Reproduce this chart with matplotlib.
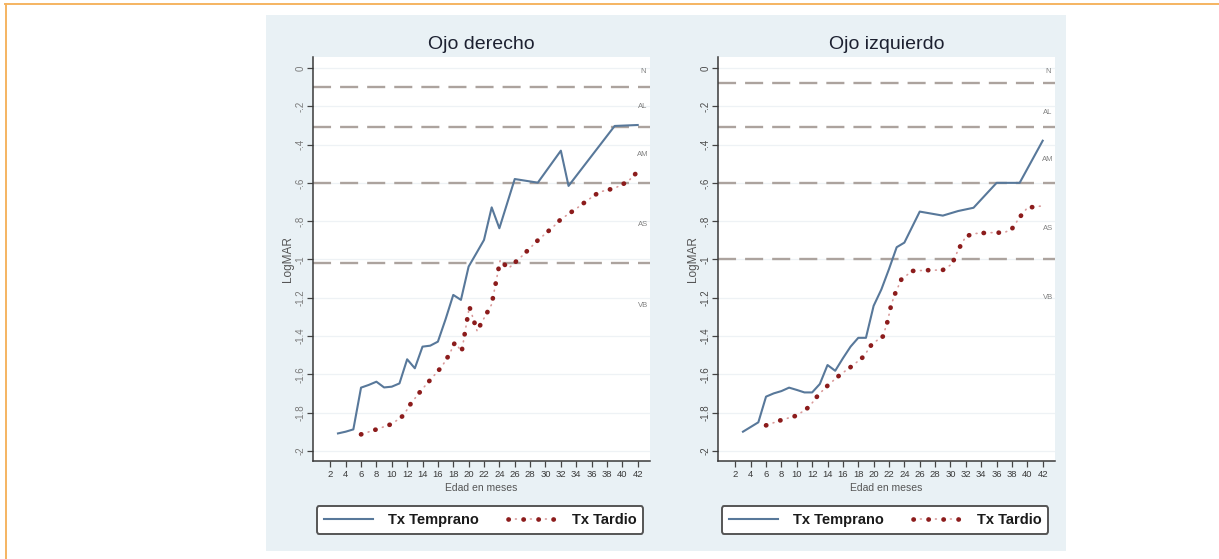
import matplotlib
matplotlib.use("Agg")
import matplotlib.pyplot as plt
from matplotlib.lines import Line2D
from matplotlib.patches import Rectangle

plt.rcParams["font.family"] = ["Liberation Sans", "DejaVu Sans"]
plt.rcParams["lines.scale_dashes"] = False

W, H = 1219, 559

# --- datos ---
titulos = ["Ojo derecho", "Ojo izquierdo"]
meses_ticks = list(range(2, 43, 2))
logmar_ticks = [0, -0.2, -0.4, -0.6, -0.8, -1, -1.2, -1.4, -1.6, -1.8, -2]
logmar_labels = ["0", "-.2", "-.4", "-.6", "-.8", "-1", "-1.2", "-1.4", "-1.6", "-1.8", "-2"]
categorias = ["N", "AL", "AM", "AS", "VB"]

# ojo derecho
der_temprano_x = [3, 4, 5, 6, 7, 8, 9, 10, 11, 12, 13, 14, 15, 16, 17, 18, 19, 20, 21, 22,
                  23, 24, 26, 29, 32, 33, 39, 42]
der_temprano_y = [-1.908, -1.899, -1.887, -1.669, -1.655, -1.638, -1.668, -1.664, -1.647, -1.521,
                  -1.568, -1.455, -1.450, -1.429, -1.312, -1.185, -1.211, -1.037, -0.968, -0.898,
                  -0.728, -0.837, -0.580, -0.599, -0.432, -0.616, -0.303, -0.298]
der_tardio_x = [6, 8, 10, 11.5, 12.5, 14, 15, 16.5, 17.5, 18.2, 19.1, 20.1, 21.1, 22, 23, 24.1,
                25.2, 27, 29, 31, 32, 34, 35.5, 37, 39, 40.7, 42]
der_tardio_y = [-1.913, -1.887, -1.859, -1.815, -1.751, -1.675, -1.629, -1.560, -1.495, -1.434,
                -1.480, -1.246, -1.373, -1.307, -1.234, -1.005, -1.046, -0.980, -0.900, -0.830,
                -0.790, -0.735, -0.690, -0.648, -0.628, -0.594, -0.541]
der_cortes = [-0.1, -0.31, -0.6, -1.02]
der_cat_y = [-0.02, -0.2, -0.454, -0.82, -1.24]

# ojo izquierdo
izq_temprano_x = [3, 5, 6, 7, 8, 9, 10, 11, 12, 13, 14, 15, 16, 17, 18, 19, 20, 21, 22, 23,
                  24, 26, 29, 31, 33, 36, 39, 42]
izq_temprano_y = [-1.899, -1.850, -1.716, -1.699, -1.687, -1.669, -1.681, -1.694, -1.694, -1.650,
                  -1.551, -1.581, -1.516, -1.455, -1.409, -1.409, -1.242, -1.157, -1.050, -0.936,
                  -0.912, -0.750, -0.771, -0.747, -0.730, -0.600, -0.600, -0.380]
izq_tardio_x = [6, 8, 10, 11.6, 12.8, 14.1, 15.6, 17.2, 18.7, 19.8, 21.2, 21.8, 22.3, 22.8, 23.6,
                25, 27, 29, 30.2, 31, 32, 33, 35, 37, 38, 39, 40, 42]
izq_tardio_y = [-1.866, -1.838, -1.815, -1.770, -1.707, -1.655, -1.603, -1.556, -1.507, -1.440,
                -1.402, -1.325, -1.235, -1.178, -1.105, -1.060, -1.056, -1.055, -1.024, -0.950,
                -0.880, -0.865, -0.860, -0.860, -0.840, -0.780, -0.730, -0.720]
izq_cortes = [-0.08, -0.31, -0.6, -1.0]
izq_cat_y = [-0.02, -0.235, -0.48, -0.84, -1.2]

series = [
    (der_temprano_x, der_temprano_y, der_tardio_x, der_tardio_y, der_cortes, der_cat_y),
    (izq_temprano_x, izq_temprano_y, izq_tardio_x, izq_tardio_y, izq_cortes, izq_cat_y),
]

azul = "#58789a"
rojo = "#8c1c1c"
rojo_claro = "#d99a9a"
gris_corte = "#aca39e"


def fx(px):
    return px / W


def fy(py):
    return 1 - py / H


fig = plt.figure(figsize=(W / 100, H / 100), dpi=100, facecolor="white")

# fondo del panel y borde naranja
fig.patches.append(Rectangle((fx(266), fy(551)), 800 / W, 536 / H, transform=fig.transFigure,
                             facecolor="#e9f1f5", edgecolor="none", zorder=-10))
fig.lines.append(Line2D([fx(5), 1], [fy(4), fy(4)], transform=fig.transFigure,
                        color="#f5b461", lw=1.4, zorder=-5))
fig.lines.append(Line2D([fx(6), fx(6)], [fy(4), 0], transform=fig.transFigure,
                        color="#f5b461", lw=1.4, zorder=-5))

ejes_x = [313, 718]
for i, (tx, ty, rx, ry, cortes, cat_y) in enumerate(series):
    x0 = ejes_x[i]
    ax = fig.add_axes([fx(x0), fy(461), 337 / W, 404 / H])
    ax.set_facecolor("white")
    ax.set_xlim(-0.25, 43.6)
    ax.set_ylim(-2.052, 0.057)

    ax.set_yticks(logmar_ticks)
    ax.set_yticklabels(logmar_labels, rotation=90, va="center")
    ax.set_xticks(meses_ticks)
    ax.set_xticklabels([str(m) for m in meses_ticks])
    lab_col = "#7a7a7a" if i == 0 else "#4a4a4a"
    ax.tick_params(axis="y", length=4.3, width=0.9, color="#444", labelsize=7,
                   labelcolor=lab_col, pad=1)
    ax.tick_params(axis="x", length=4.3, width=0.9, color="#444", labelsize=6.8,
                   labelcolor="#3a3a3a", pad=2)
    ax.yaxis.grid(True, color="#eef2f5", lw=0.9)
    ax.set_axisbelow(True)

    for s in ["top", "right"]:
        ax.spines[s].set_visible(False)
    for s in ["left", "bottom"]:
        ax.spines[s].set_color("#3a3a3a")
        ax.spines[s].set_linewidth(1.1)

    for c in cortes:
        ax.axhline(c, color=gris_corte, lw=1.7, dashes=(13, 6.5), zorder=1)
    for nombre, yv in zip(categorias, cat_y):
        ax.text(42.7, yv, nombre, fontsize=5.5, color="#808080", ha="center", va="center")

    ax.plot(tx, ty, color=azul, lw=1.5, zorder=3)
    ax.plot(rx, ry, color=rojo_claro, lw=1.2, dashes=(0.6, 4.8), dash_capstyle="round", zorder=3)
    ax.plot(rx, ry, color=rojo, lw=3.4, dashes=(0.2, 10.6), dash_capstyle="round", zorder=4)

    ax.set_title(titulos[i], fontsize=14, color="#1c2030", pad=5.5)
    ax.set_xlabel("Edad en meses", fontsize=7.5, color="#555", labelpad=3)
    ax.set_ylabel("LogMAR", fontsize=8.5, color="#555")
    ax.yaxis.set_label_coords(-0.055, 0.5)

    h_azul = Line2D([], [], color=azul, lw=1.5)
    h_rojo = (Line2D([], [], color=rojo_claro, lw=1.2, dashes=(0.6, 4.8), dash_capstyle="round"),
              Line2D([], [], color=rojo, lw=3.4, dashes=(0.2, 10.6), dash_capstyle="round"))
    bx = 317 + 405 * i
    leg = ax.legend([h_azul, h_rojo], ["Tx Temprano", "Tx Tardio"], ncol=2, mode="expand",
                    loc="center", bbox_to_anchor=(fx(bx), fy(535), 326 / W, 30 / H),
                    bbox_transform=fig.transFigure, borderaxespad=0,
                    prop={"size": 10.5, "weight": "bold"},
                    handlelength=3.4, handletextpad=1.0, borderpad=0.45, fancybox=True,
                    framealpha=1, edgecolor="#555")
    for t in leg.get_texts():
        t.set_color("#1a1a1a")
    leg.get_frame().set_linewidth(1.4)
    leg.get_frame().set_boxstyle("round", pad=0, rounding_size=0.15)

fig.savefig("out.png", dpi=100, facecolor="white")
